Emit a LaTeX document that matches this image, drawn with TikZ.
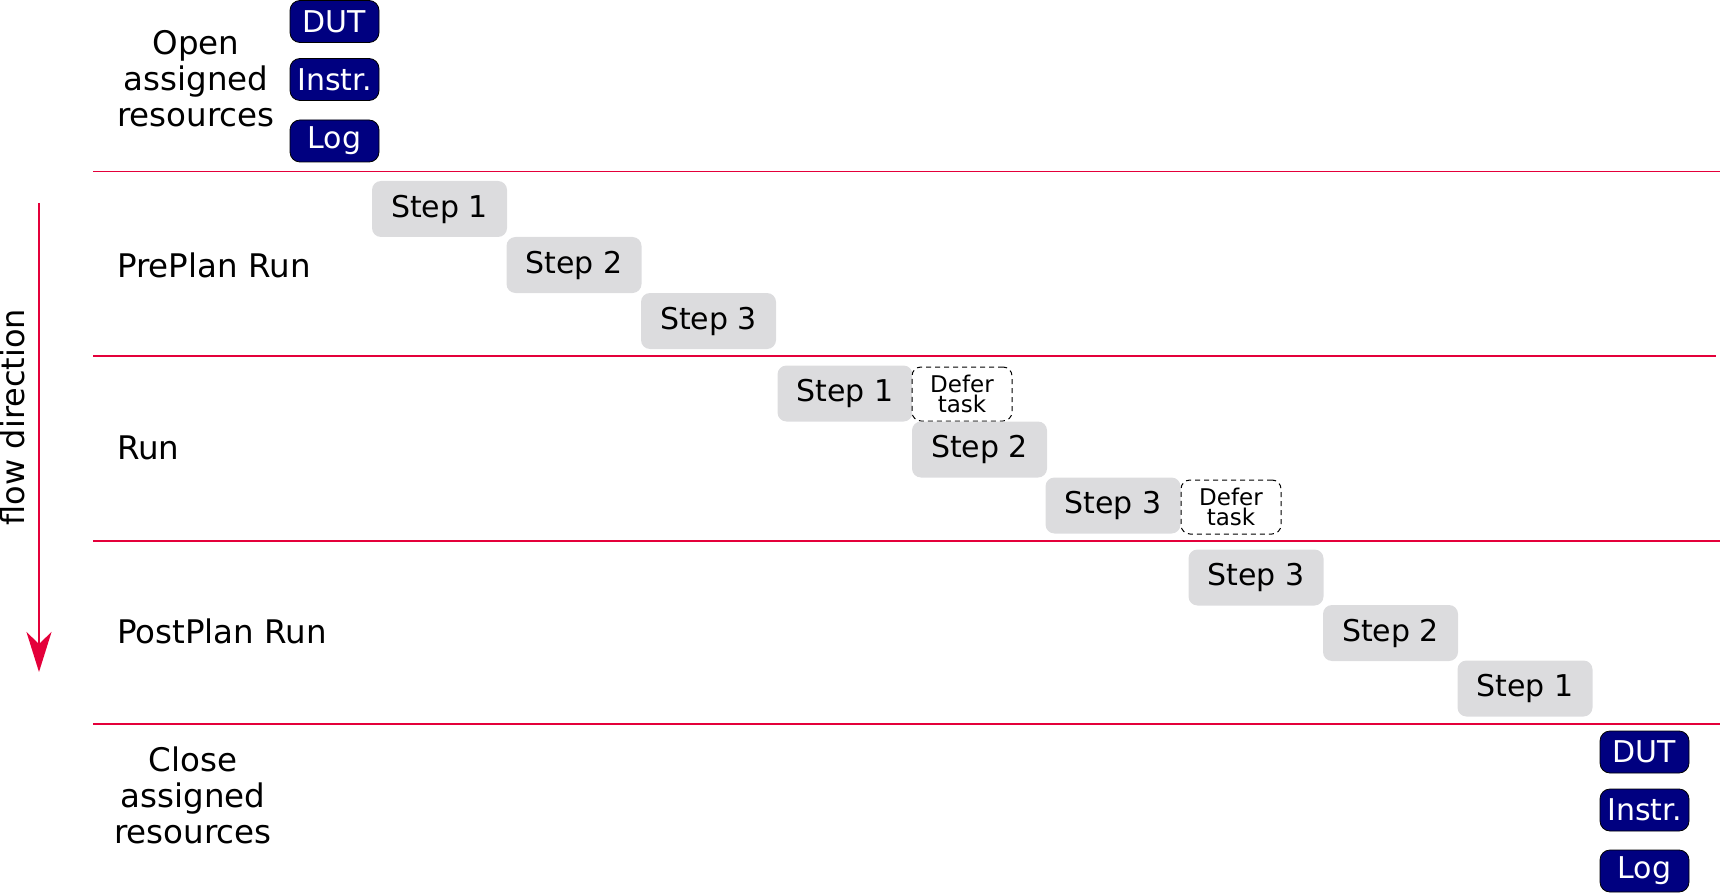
\documentclass[tikz,border=0pt]{standalone}
\usepackage{fontspec}
\setmainfont{DejaVu Sans}
\usetikzlibrary{arrows.meta}
\definecolor{flowred}{RGB}{228,0,58}
\definecolor{stepgray}{RGB}{220,220,222}
\definecolor{resnavy}{RGB}{0,0,128}
\begin{document}
\begin{tikzpicture}[x=1pt,y=-1pt,
  stepbox/.style={rectangle,rounded corners=9pt,fill=stepgray,minimum width=135pt,minimum height=56pt,inner sep=0pt,font=\fontsize{30}{34}\selectfont},
  deferbox/.style={rectangle,rounded corners=9pt,draw=black,dashed,line width=1pt,dash pattern=on 5pt off 4pt,fill=white,minimum width=100pt,minimum height=54pt,inner sep=0pt,align=center,font=\fontsize{23}{20}\selectfont},
  resbox/.style={rectangle,rounded corners=10pt,draw=black,line width=0.8pt,fill=resnavy,text=white,minimum width=89pt,minimum height=42pt,inner sep=0pt,font=\fontsize{30}{32}\selectfont},
  lanelabel/.style={font=\fontsize{32.5}{36}\selectfont,inner sep=0pt},
  sepline/.style={draw=flowred,line width=1.5pt}
]
\useasboundingbox (0,0) rectangle (1720,893);

% separator lines
\coordinate (l1a) at (93,171.5); \coordinate (l1b) at (1720,171.5);
\coordinate (l2a) at (93,356); \coordinate (l2b) at (1716,356);
\coordinate (l3a) at (93,541); \coordinate (l3b) at (1720,541);
\coordinate (l4a) at (93,724); \coordinate (l4b) at (1720,724);
\draw[sepline] (l1a) -- (l1b);
\draw[sepline] (l2a) -- (l2b);
\draw[sepline] (l3a) -- (l3b);
\draw[sepline] (l4a) -- (l4b);

% flow arrow
\coordinate (fa) at (39,203);
\coordinate (fb) at (39,672);
\draw[draw=flowred,line width=2pt,-{Stealth[length=40pt,width=25pt,inset=12pt]}] (fa) -- (fb);
\node[lanelabel,rotate=90,font=\fontsize{32}{36}\selectfont] (flow) at (13,417) {flow direction};

% lane labels
\node[lanelabel,align=center] (open) at (196,79) {Open\\assigned\\resources};
\node[lanelabel,anchor=west] (pre) at (117,265) {PrePlan Run};
\node[lanelabel,anchor=west] (run) at (117,448) {Run};
\node[lanelabel,anchor=west] (post) at (117,631) {PostPlan Run};
\node[lanelabel,align=center] (close) at (193,795) {Close\\assigned\\resources};

% open resources
\node[resbox] (odut) at (334.5,21.5) {DUT};
\node[resbox] (oins) at (334.5,79.5) {Instr.};
\node[resbox] (olog) at (334.5,141) {Log};

% preplan
\node[stepbox] (p1) at (439.5,209) {Step 1};
\node[stepbox] (p2) at (574,265) {Step 2};
\node[stepbox] (p3) at (708.5,321) {Step 3};

% run
\node[stepbox] (r1) at (845,393.5) {Step 1};
\node[deferbox] (d1) at (962,394) {Defer\\task};
\node[stepbox] (r2) at (979.5,449.5) {Step 2};
\node[stepbox] (r3) at (1113,505.5) {Step 3};
\node[deferbox] (d2) at (1231,507) {Defer\\task};

% postplan
\node[stepbox] (q3) at (1256,577.5) {Step 3};
\node[stepbox] (q2) at (1390.5,633) {Step 2};
\node[stepbox] (q1) at (1525,688.5) {Step 1};

% close resources
\node[resbox] (cdut) at (1644.5,752) {DUT};
\node[resbox] (cins) at (1644.5,810) {Instr.};
\node[resbox] (clog) at (1644.5,871) {Log};
\end{tikzpicture}
\end{document}
